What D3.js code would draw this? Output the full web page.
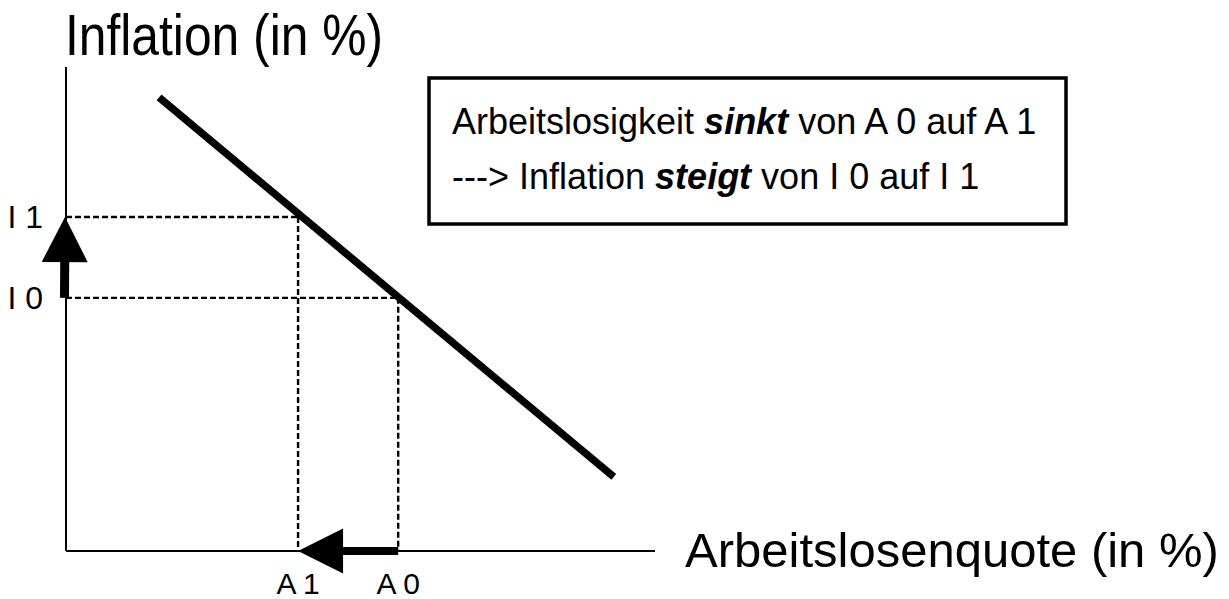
<!DOCTYPE html>
<html>
<head>
<meta charset="utf-8">
<script src="https://cdn.jsdelivr.net/npm/d3@7"></script>
<style>
  html, body { margin: 0; padding: 0; background: #fff; }
  svg { display: block; }
  text { font-family: "Liberation Sans", Arial, Helvetica, sans-serif; fill: #000; }
</style>
</head>
<body>
<svg id="chart" width="1229" height="599"></svg>
<script>
// Phillips curve: unemployment rate (x) vs. inflation (y), schematic units 0..100
const xDomain = [0, 100];
const yDomain = [0, 100];

// Endpoints of the Phillips curve
const curveX = [15.8, 93.0];
const curveY = [93.7, 15.3];

// Starting and ending states
const unemploymentLevels = [56.4, 39.4];   // A 0, A 1
const unemploymentLabels = ["A 0", "A 1"];
const inflationLevels = [52.3, 69.0];      // I 0, I 1
const inflationLabels = ["I 0", "I 1"];

const axisTitleY = "Inflation (in %)";
const axisTitleX = "Arbeitslosenquote (in %)";
const noteLines = [
  [["Arbeitslosigkeit ", false], ["sinkt", true], [" von A 0 auf A 1", false]],
  [["---> Inflation ", false], ["steigt", true], [" von I 0 auf I 1", false]]
];

const svg = d3.select("#chart");

const x = d3.scaleLinear().domain(xDomain).range([66, 655]);
const y = d3.scaleLinear().domain(yDomain).range([551, 67]);

// Axes (plain lines, no ticks)
svg.append("line")
  .attr("x1", x(0)).attr("x2", x(0))
  .attr("y1", y(0)).attr("y2", y(yDomain[1]))
  .attr("stroke", "#000").attr("stroke-width", 2);
svg.append("line")
  .attr("x1", x(0)).attr("x2", x(xDomain[1]))
  .attr("y1", y(0)).attr("y2", y(0))
  .attr("stroke", "#000").attr("stroke-width", 2);

// Dotted guide lines from the axes to the curve
const guides = svg.append("g")
  .attr("stroke", "#000").attr("stroke-width", 2.4)
  .attr("stroke-dasharray", "6,3").attr("fill", "none");
unemploymentLevels.forEach((a, i) => {
  const lvl = inflationLevels[i];
  guides.append("line")
    .attr("x1", x(0)).attr("x2", x(a))
    .attr("y1", y(lvl)).attr("y2", y(lvl));
  guides.append("line")
    .attr("x1", x(a)).attr("x2", x(a))
    .attr("y1", y(lvl)).attr("y2", y(0));
});

// Phillips curve
const curve = d3.line().x(d => x(d[0])).y(d => y(d[1]));
svg.append("path")
  .datum(d3.zip(curveX, curveY))
  .attr("d", curve)
  .attr("stroke", "#000").attr("stroke-width", 7.5)
  .attr("fill", "none");

// Thick arrow from p0 to p1 (pixel coordinates)
function arrow(p0, p1, shaft, headLen, headW) {
  const dx = p1[0] - p0[0], dy = p1[1] - p0[1];
  const len = Math.hypot(dx, dy);
  const ux = dx / len, uy = dy / len;
  const nx = -uy, ny = ux;
  const bx = p1[0] - ux * headLen, by = p1[1] - uy * headLen;
  svg.append("line")
    .attr("x1", p0[0]).attr("y1", p0[1])
    .attr("x2", bx).attr("y2", by)
    .attr("stroke", "#000").attr("stroke-width", shaft);
  svg.append("path")
    .attr("d", d3.line()([
      [p1[0], p1[1]],
      [bx + nx * headW / 2, by + ny * headW / 2],
      [bx - nx * headW / 2, by - ny * headW / 2]
    ]) + "Z")
    .attr("fill", "#000");
}

// Inflation rises along the y-axis
arrow([x(0) - 1.5, y(inflationLevels[0])], [x(0) - 1, y(inflationLevels[1])], 9, 45, 46);
// Unemployment falls along the x-axis
arrow([x(unemploymentLevels[0]), y(0)], [x(unemploymentLevels[1]), y(0)], 8, 45, 45);

// Level labels
inflationLabels.forEach((t, i) => {
  svg.append("text")
    .attr("x", 43).attr("y", y(inflationLevels[i]) + 11)
    .attr("text-anchor", "end")
    .attr("font-size", 32)
    .text(t);
});
unemploymentLabels.forEach((t, i) => {
  svg.append("text")
    .attr("x", x(unemploymentLevels[i])).attr("y", 594)
    .attr("text-anchor", "middle")
    .attr("font-size", 30)
    .text(t);
});

// Axis titles
svg.append("text")
  .attr("x", 65).attr("y", 55)
  .attr("font-size", 57)
  .attr("textLength", 318).attr("lengthAdjust", "spacingAndGlyphs")
  .text(axisTitleY);
svg.append("text")
  .attr("x", 685).attr("y", 567)
  .attr("font-size", 49)
  .text(axisTitleX);

// Explanation box
svg.append("rect")
  .attr("x", 429).attr("y", 78)
  .attr("width", 637).attr("height", 146)
  .attr("fill", "#fff").attr("stroke", "#000").attr("stroke-width", 3.5);

noteLines.forEach((parts, i) => {
  const t = svg.append("text")
    .attr("x", 452).attr("y", 134 + i * 55)
    .attr("font-size", 36)
    .attr("xml:space", "preserve")
    .style("white-space", "pre");
  parts.forEach(([s, em]) => {
    const ts = t.append("tspan").text(s);
    if (em) ts.attr("font-weight", "bold").attr("font-style", "italic");
  });
});
</script>
</body>
</html>
